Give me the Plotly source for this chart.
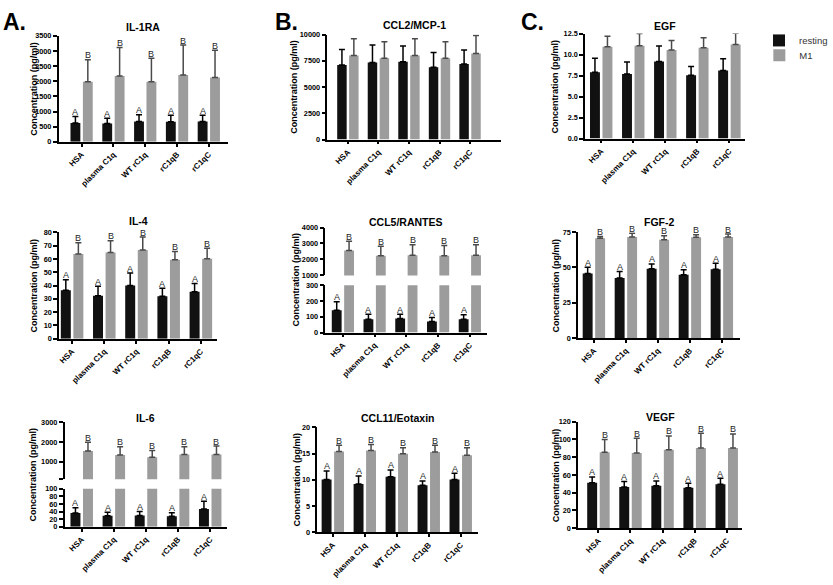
import plotly.graph_objects as go

W, H = 833, 585
CATS = ["HSA", "plasma C1q", "WT rC1q", "rC1qB", "rC1qC"]
SERIES = ["resting", "M1"]

# ---------------- data (mean, upper SD) ----------------
IL1RA_REST = [620, 605, 670, 660, 670]
IL1RA_REST_ERR = [215, 175, 225, 215, 205]
IL1RA_M1 = [1980, 2170, 1980, 2210, 2125]
IL1RA_M1_ERR = [730, 940, 780, 985, 900]

CCL2_REST = [7100, 7330, 7420, 6880, 7200]
CCL2_REST_ERR = [1480, 1670, 1480, 1400, 1330]
CCL2_M1 = [8000, 7750, 8000, 7750, 8200]
CCL2_M1_ERR = [1600, 1560, 1600, 1560, 1700]

EGF_REST = [7.89, 7.70, 9.18, 7.54, 8.09]
EGF_REST_ERR = [1.68, 1.40, 1.84, 1.05, 1.40]
EGF_M1 = [10.94, 11.05, 10.55, 10.82, 11.21]
EGF_M1_ERR = [1.25, 1.45, 1.13, 1.18, 1.33]

IL4_REST = [36.5, 32.3, 40.0, 31.9, 35.3]
IL4_REST_ERR = [7.9, 7.2, 9.4, 6.1, 6.2]
IL4_M1 = [63.7, 64.9, 66.7, 59.5, 60.2]
IL4_M1_ERR = [8.6, 8.9, 9.8, 6.2, 7.9]

CCL5_REST = [142, 85, 90, 71, 85]
CCL5_REST_ERR = [54, 32, 27, 25, 28]
CCL5_M1 = [2560, 2230, 2270, 2230, 2270]
CCL5_M1_ERR = [586, 603, 647, 645, 647]

FGF2_REST = [45.7, 42.5, 49.0, 44.8, 48.8]
FGF2_REST_ERR = [4.5, 4.6, 3.5, 3.5, 4.1]
FGF2_M1 = [70.6, 71.5, 69.7, 71.3, 71.5]
FGF2_M1_ERR = [1.4, 2.8, 2.7, 1.8, 2.1]

IL6_REST = [36, 29, 30, 28, 47]
IL6_REST_ERR = [14, 9, 10, 9, 20]
IL6_M1 = [1540, 1340, 1220, 1360, 1370]
IL6_M1_ERR = [454, 420, 355, 400, 423]

CCL11_REST = [10.1, 9.2, 10.6, 9.0, 10.1]
CCL11_REST_ERR = [1.6, 1.55, 1.3, 0.8, 1.15]
CCL11_M1 = [15.4, 15.6, 15.0, 15.3, 14.7]
CCL11_M1_ERR = [1.2, 1.15, 1.1, 1.3, 1.4]

VEGF_REST = [51.1, 46.3, 47.8, 45.6, 49.6]
VEGF_REST_ERR = [6.7, 6.3, 5.5, 5.1, 6.7]
VEGF_M1 = [85.6, 84.8, 88.5, 90.4, 90.4]
VEGF_M1_ERR = [14.4, 16.7, 15.5, 16.6, 15.9]

REST_LETTER = "A"
M1_LETTER = "B"

# ---------------- style ----------------
FONT = "Liberation Sans, Arial, sans-serif"
REST_COLOR = "#111111"
M1_COLOR = "#9c9c9c"
REST_ERR_COLOR = "#000000"
M1_ERR_COLOR = "#4a4a4a"
BW = 0.31
OFF_REST = -0.35
OFF_M1 = 0.04

fig = go.Figure()
layout = dict(annotations=[])
counter = [0]


def add_segment(x0, x1, ytop, ybot, xrange, yrange, show_x, tickvals=None, ticktext=None, dtick=None, tickformat="d"):
    counter[0] += 1
    n = counter[0]
    s = "" if n == 1 else str(n)
    layout["xaxis" + s] = dict(
        domain=[x0 / W, x1 / W], range=xrange, anchor="y" + s, visible=show_x,
        tickmode="array", tickvals=list(range(len(CATS))), ticktext=CATS, tickangle=-45,
        ticks="outside", ticklen=3, tickwidth=1.5, tickcolor="black",
        showline=True, linewidth=1.8, linecolor="black", showgrid=False, zeroline=False,
        tickfont=dict(family=FONT, size=8, color="black", weight="bold"), fixedrange=True,
    )
    ya = dict(
        domain=[1 - ybot / H, 1 - ytop / H], range=yrange, anchor="x" + s,
        ticks="outside", ticklen=4, tickwidth=1.5, tickcolor="black",
        showline=True, linewidth=1.8, linecolor="black", showgrid=False, zeroline=False,
        tickfont=dict(family=FONT, size=7.3, color="black", weight="bold"),
        tickformat=tickformat, fixedrange=True,
    )
    if tickvals is not None:
        ya.update(tickmode="array", tickvals=tickvals, ticktext=ticktext)
    else:
        ya.update(tick0=0, dtick=dtick)
    layout["yaxis" + s] = ya
    return "x" + s, "y" + s


def add_bars(xr, yr, rest, rest_err, m1, m1_err, draw_rest=True, draw_m1=True,
             rest_err_on=True, m1_err_on=True, legend=False):
    idx = list(range(len(CATS)))
    if draw_rest:
        fig.add_trace(go.Bar(
            x=idx, y=rest, xaxis=xr, yaxis=yr, name=SERIES[0], showlegend=legend,
            legend="legend",
            width=BW, offset=OFF_REST, marker=dict(color=REST_COLOR, line=dict(width=0)),
            error_y=dict(type="data", symmetric=False, array=rest_err, arrayminus=[0] * len(rest),
                         color=REST_ERR_COLOR, thickness=1.5, width=3, visible=rest_err_on),
            hoverinfo="skip",
        ))
    if draw_m1:
        fig.add_trace(go.Bar(
            x=idx, y=m1, xaxis=xr, yaxis=yr, name=SERIES[1], showlegend=legend,
            legend="legend2",
            width=BW, offset=OFF_M1, marker=dict(color=M1_COLOR, line=dict(width=0)),
            error_y=dict(type="data", symmetric=False, array=m1_err, arrayminus=[0] * len(m1),
                         color=M1_ERR_COLOR, thickness=1.5, width=3, visible=m1_err_on),
            hoverinfo="skip",
        ))


def add_letters(xr, yr, vals, errs, letter, offset):
    for i, (v, e) in enumerate(zip(vals, errs)):
        layout["annotations"].append(dict(
            xref=xr, yref=yr, x=i + offset + BW / 2, y=v + e, text=letter,
            showarrow=False, yanchor="bottom", yshift=-2.5,
            font=dict(family=FONT, size=9, color="#262626"),
        ))


def add_titles(x0, x1, title_y, ytitle_x, ytop, ybot, title):
    layout["annotations"].append(dict(
        xref="paper", yref="paper", x=(x0 + x1) / 2 / W, y=1 - title_y / H, text=title,
        showarrow=False, xanchor="center", yanchor="middle",
        font=dict(family=FONT, size=10.5, color="black", weight="bold"),
    ))
    layout["annotations"].append(dict(
        xref="paper", yref="paper", x=ytitle_x / W, y=1 - (ytop + ybot) / 2 / H,
        text="Concentration (pg/ml)", textangle=-90, showarrow=False,
        xanchor="center", yanchor="middle",
        font=dict(family=FONT, size=9, color="black", weight="bold"),
    ))


def simple_panel(x0, x1, ytop, ybot, xrange, yrange, dtick, title, title_y, ytitle_x,
                 rest, rest_err, m1, m1_err, letters=True, tickformat="d", legend=False):
    xr, yr = add_segment(x0, x1, ytop, ybot, xrange, yrange, True, dtick=dtick, tickformat=tickformat)
    add_bars(xr, yr, rest, rest_err, m1, m1_err, legend=legend)
    if letters:
        add_letters(xr, yr, rest, rest_err, REST_LETTER, OFF_REST)
        add_letters(xr, yr, m1, m1_err, M1_LETTER, OFF_M1)
    add_titles(x0, x1, title_y, ytitle_x, ytop, ybot, title)


def broken_panel(x0, x1, up_top, up_bot, lo_top, lo_bot, xrange, up_range, lo_range,
                 up_ticks, up_text, lo_dtick, title, title_y, ytitle_x,
                 rest, rest_err, m1, m1_err):
    xl, yl = add_segment(x0, x1, lo_top, lo_bot, xrange, lo_range, True, dtick=lo_dtick)
    add_bars(xl, yl, rest, rest_err, m1, m1_err, m1_err_on=False)
    add_letters(xl, yl, rest, rest_err, REST_LETTER, OFF_REST)
    xu, yu = add_segment(x0, x1, up_top, up_bot, xrange, up_range, False,
                         tickvals=up_ticks, ticktext=up_text)
    add_bars(xu, yu, rest, rest_err, m1, m1_err, draw_rest=False)
    add_letters(xu, yu, m1, m1_err, M1_LETTER, OFF_M1)
    add_titles(x0, x1, title_y, ytitle_x, up_top, lo_bot, title)


# Row 1
simple_panel(58, 228, 32.3, 140, [-0.72, 4.6], [0, 3500], 500, "IL-1RA", 23, 33,
             IL1RA_REST, IL1RA_REST_ERR, IL1RA_M1, IL1RA_M1_ERR)
simple_panel(328, 502, 31, 137.7, [-0.67, 5.0], [0, 10000], 2500, "CCL2/MCP-1", 21, 294,
             CCL2_REST, CCL2_REST_ERR, CCL2_M1, CCL2_M1_ERR, letters=False)
simple_panel(587, 748, 30, 136.7, [-0.5, 4.5], [0, 12.5], 2.5, "EGF", 22, 557,
             EGF_REST, EGF_REST_ERR, EGF_M1, EGF_M1_ERR, letters=False, tickformat=".1f", legend=True)

# Row 2
simple_panel(58.5, 217, 232, 340, [-0.4, 4.5], [0, 80], 10, "IL-4", 220.5, 33,
             IL4_REST, IL4_REST_ERR, IL4_M1, IL4_M1_ERR)
broken_panel(326, 488, 227, 275.7, 285.7, 333.7, [-0.55, 4.53], [1000, 4000], [0, 300],
             [1000, 2000, 3000, 4000], ["1000", "2000", "3000", "4000"], 100,
             "CCL5/RANTES", 221.5, 296,
             CCL5_REST, CCL5_REST_ERR, CCL5_M1, CCL5_M1_ERR)
simple_panel(580, 743, 231.7, 339.3, [-0.49, 4.58], [0, 75], 25, "FGF-2", 221, 558,
             FGF2_REST, FGF2_REST_ERR, FGF2_M1, FGF2_M1_ERR)

# Row 3
broken_panel(64, 227, 425, 482.7, 492.3, 531, [-0.53, 4.52], [100, 3000], [0, 100],
             [100, 1000, 2000, 3000], ["", "1000", "2000", "3000"], 20,
             "IL-6", 420, 32,
             IL6_REST, IL6_REST_ERR, IL6_M1, IL6_M1_ERR)
simple_panel(318, 479, 430, 536.7, [-0.48, 4.53], [0, 20], 5, "CCL11/Eotaxin", 420.5, 297,
             CCL11_REST, CCL11_REST_ERR, CCL11_M1, CCL11_M1_ERR)
simple_panel(580, 745, 424.3, 532.3, [-0.63, 4.49], [0, 120], 20, "VEGF", 419.5, 558,
             VEGF_REST, VEGF_REST_ERR, VEGF_M1, VEGF_M1_ERR)

# Panel letters
for lbl, px in [("A.", 0), ("B.", 273), ("C.", 521)]:
    layout["annotations"].append(dict(
        xref="paper", yref="paper", x=px / W, y=1 - 18 / H, text=lbl, showarrow=False,
        xanchor="left", yanchor="middle",
        font=dict(family=FONT, size=23, color="black", weight="bold"),
    ))

leg_common = dict(xanchor="left", yanchor="middle", bgcolor="rgba(0,0,0,0)",
                  font=dict(family=FONT, size=9.5, color="#333333"), itemwidth=30)

fig.update_layout(
    width=W, height=H, margin=dict(l=0, r=0, t=0, b=0),
    paper_bgcolor="white", plot_bgcolor="white", barmode="overlay",
    showlegend=True,
    legend=dict(x=762 / W, y=1 - 37 / H, **leg_common),
    legend2=dict(x=762 / W, y=1 - 52 / H, **leg_common),
    **layout,
)

fig.write_html("out.html")
